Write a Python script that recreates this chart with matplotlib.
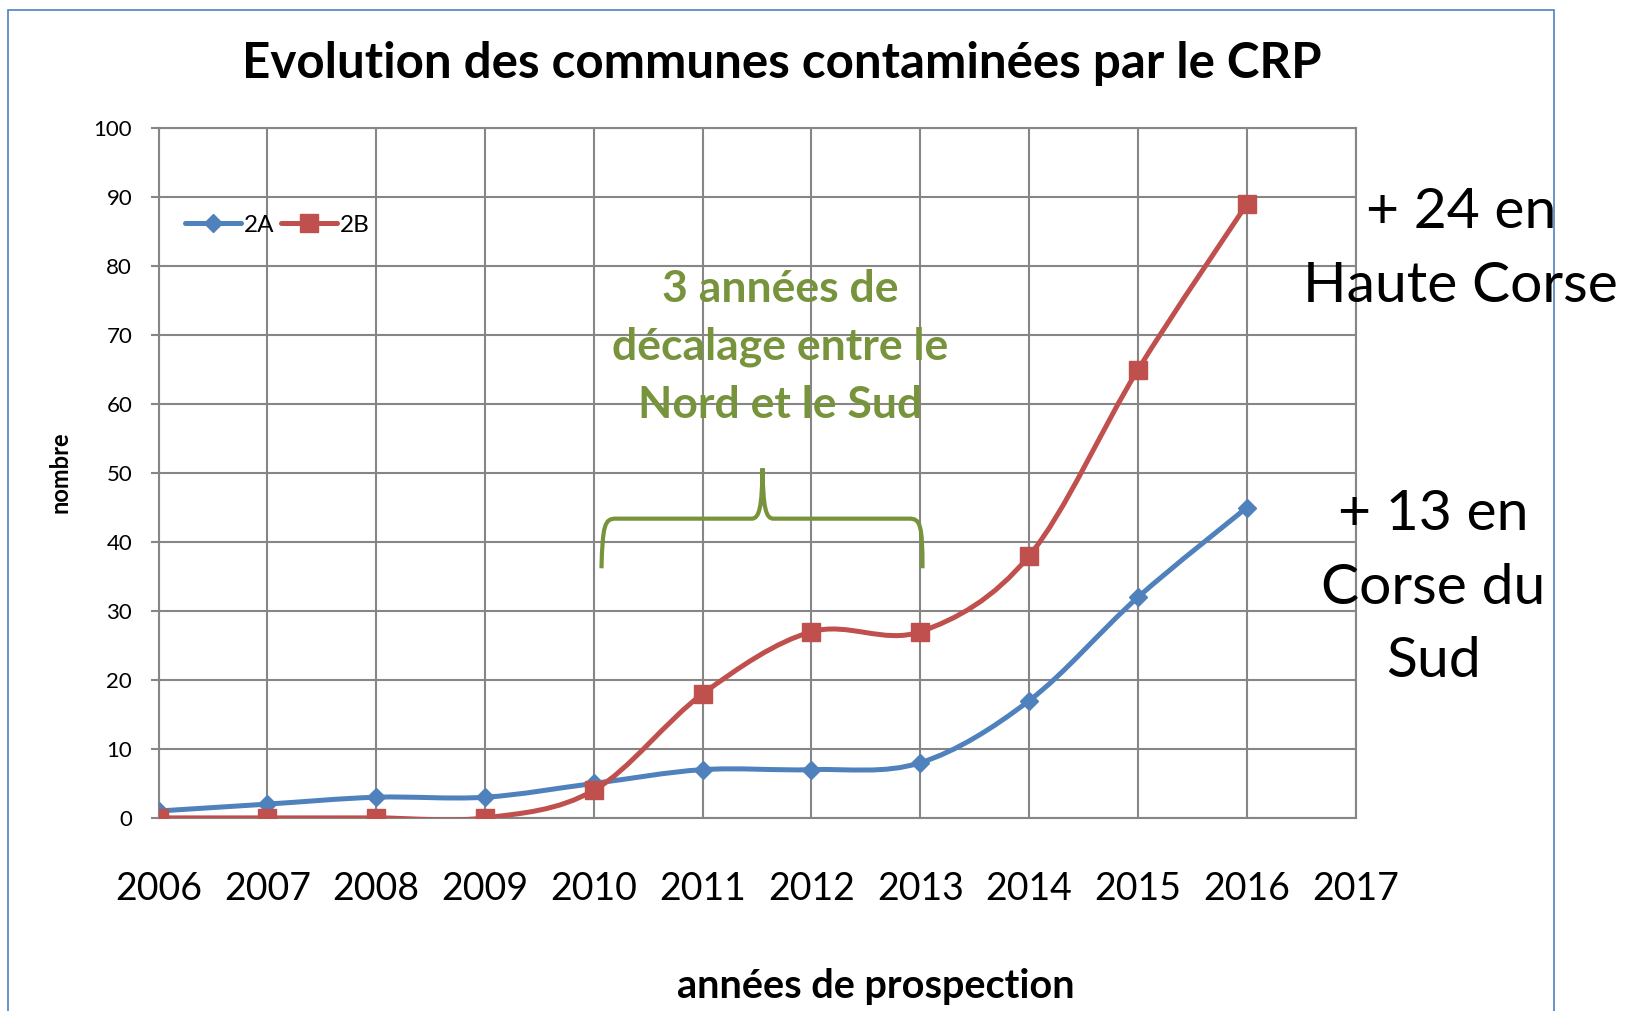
import matplotlib
matplotlib.use("Agg")
import matplotlib.pyplot as plt
import numpy as np
from matplotlib.path import Path
from matplotlib.patches import PathPatch, Rectangle

plt.rcParams["font.family"] = ["Lato", "DejaVu Sans"]

# Données
annees = [2006, 2007, 2008, 2009, 2010, 2011, 2012, 2013, 2014, 2015, 2016]
communes_2a = [1, 2, 3, 3, 5, 7, 7, 8, 17, 32, 45]
communes_2b = [0, 0, 0, 0, 4, 18, 27, 27, 38, 65, 89]
xticks = list(range(2006, 2018))
yticks = list(range(0, 101, 10))

BLEU = "#4F81BD"
ROUGE = "#C0504D"
VERT = "#77933C"
GRIS = "#868686"


def courbe_lissee(x, y):
    """Chemin de Bezier type Catmull-Rom (lissage façon Excel)."""
    pts = np.column_stack([x, y]).astype(float)
    n = len(pts)
    verts = [pts[0]]
    codes = [Path.MOVETO]
    for i in range(n - 1):
        p0 = pts[max(i - 1, 0)]
        p1 = pts[i]
        p2 = pts[i + 1]
        p3 = pts[min(i + 2, n - 1)]
        c1 = p1 + (p2 - p0) / 6.0
        c2 = p2 - (p3 - p1) / 6.0
        verts += [c1, c2, p2]
        codes += [Path.CURVE4] * 3
    return Path(verts, codes)


fig = plt.figure(figsize=(16.25, 10.11), dpi=100)
ax = fig.add_axes([0.0976, 0.191, 0.7366, 0.682])

for y, col, mk, ms, lab in [(communes_2a, BLEU, "D", 9, "2A"),
                            (communes_2b, ROUGE, "s", 12.5, "2B")]:
    ax.add_patch(PathPatch(courbe_lissee(annees, y), facecolor="none",
                           edgecolor=col, lw=3.6, capstyle="round", zorder=3))
    ax.plot(annees, y, linestyle="none", marker=mk, ms=ms, color=col, zorder=4)
    # entrée de légende
    ax.plot([], [], color=col, lw=3.6, marker=mk, ms=ms, label=lab,
            solid_capstyle="round")

ax.set_xlim(2006, 2017)
ax.set_ylim(0, 100)
ax.set_xticks(xticks)
ax.set_xticklabels([str(a) for a in xticks], fontsize=27)
ax.set_yticks(yticks)
ax.tick_params(axis="y", labelsize=16, length=6, width=1.5, color=GRIS, pad=13)
ax.tick_params(axis="x", length=0, pad=38)
ax.grid(True, color=GRIS, lw=1.5)
ax.set_axisbelow(True)
for s in ax.spines.values():
    s.set_color(GRIS)
    s.set_linewidth(1.5)

leg = ax.legend(loc="upper left", bbox_to_anchor=(0.014, 0.889), ncol=2,
                frameon=False, fontsize=17.5, handlelength=2.3,
                handletextpad=0.1, columnspacing=0.3, borderaxespad=0)

# accolade
bv = [(2010.07, 36.2), (2010.08, 42.5), (2010.10, 43.4), (2010.2, 43.4),
      (2011.45, 43.4), (2011.52, 43.4), (2011.545, 45), (2011.55, 50.7),
      (2011.555, 45), (2011.58, 43.4), (2011.65, 43.4),
      (2012.9, 43.4), (2013.0, 43.4), (2013.02, 42.5), (2013.02, 36.2)]
bc = [Path.MOVETO, Path.CURVE4, Path.CURVE4, Path.CURVE4, Path.LINETO,
      Path.CURVE4, Path.CURVE4, Path.CURVE4, Path.CURVE4, Path.CURVE4,
      Path.CURVE4, Path.LINETO, Path.CURVE4, Path.CURVE4, Path.CURVE4]
ax.add_patch(PathPatch(Path(bv, bc), facecolor="none", edgecolor=VERT,
                       lw=3, zorder=5))

# textes
fig.text(0.481, 0.937, "Evolution des communes contaminées par le CRP",
         ha="center", va="center", fontsize=35.5, fontweight="bold")
fig.text(0.539, 0.024, "années de prospection", ha="center", va="center",
         fontsize=28.5, fontweight="bold")
fig.text(0.037, 0.533, "nombre", ha="center", va="center", rotation=90,
         fontsize=17, fontweight="bold")
fig.text(0.480, 0.657, "3 années de\ndécalage entre le\nNord et le Sud",
         ha="center", va="center", fontsize=32, fontweight="bold",
         color=VERT, linespacing=1.53)
fig.text(0.899, 0.753, "+ 24 en\nHaute Corse", ha="center", va="center",
         fontsize=41, linespacing=1.55)
fig.text(0.882, 0.418, "+ 13 en\nCorse du\nSud", ha="center", va="center",
         fontsize=41, linespacing=1.55)

# cadre bleu
fig.add_artist(Rectangle((0.005, -0.05), 0.951, 1.04, transform=fig.transFigure,
                         facecolor="none", edgecolor=BLEU, lw=1.2, zorder=0))

fig.savefig("out.png", dpi=100)
